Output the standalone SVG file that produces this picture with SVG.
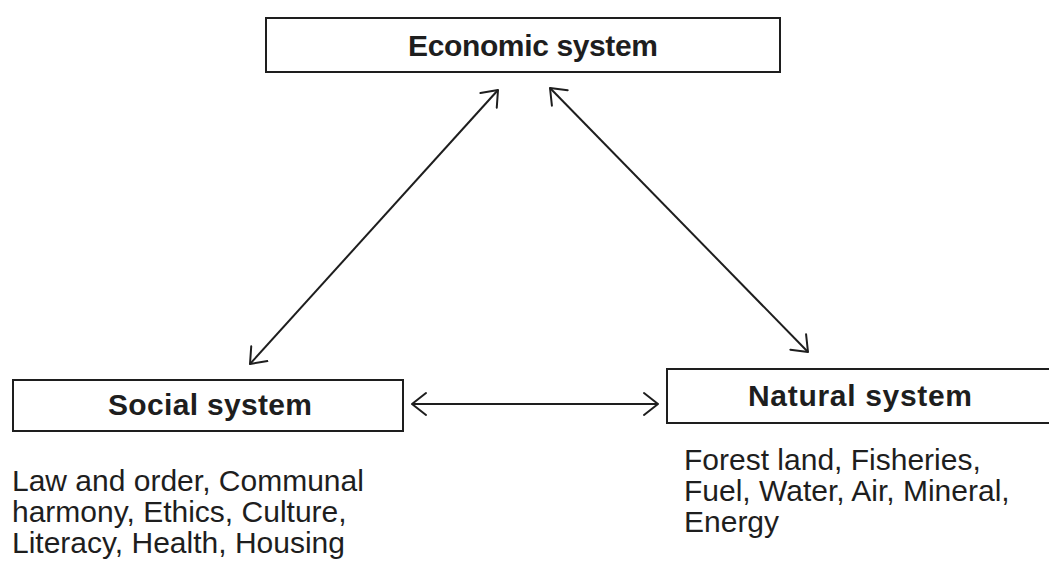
<svg xmlns="http://www.w3.org/2000/svg" width="1049" height="578" viewBox="0 0 1049 578">
<defs>
<style>
.box{fill:#fff;stroke:#1e1e1e;stroke-width:2}
.title{font-family:"Liberation Sans",Arial,sans-serif;font-weight:bold;font-size:30px;fill:#1e1e1e}
.body{font-family:"Liberation Sans",Arial,sans-serif;font-size:30px;fill:#1e1e1e}
.conn{stroke:#1e1e1e;stroke-width:2;fill:none;marker-start:url(#chev);marker-end:url(#chev)}
</style>
<marker id="chev" markerUnits="userSpaceOnUse" markerWidth="20" markerHeight="26" refX="15" refY="12" orient="auto-start-reverse" viewBox="0 0 20 24">
<path d="M1,1 L15,12 L1,23" fill="none" stroke="#1e1e1e" stroke-width="2" stroke-linecap="round" stroke-linejoin="round"/>
</marker>
</defs>
<rect width="1049" height="578" fill="#fff"/>
<g id="economic">
<rect class="box" x="266" y="18" width="514" height="54"/>
<text class="title" x="408" y="56" textLength="250" lengthAdjust="spacing">Economic system</text>
</g>
<g id="social">
<rect class="box" x="13" y="380" width="390" height="51"/>
<text class="title" x="108" y="415" textLength="204" lengthAdjust="spacing">Social system</text>
<text class="body" x="12" y="491">Law and order, Communal</text>
<text class="body" x="12" y="522">harmony, Ethics, Culture,</text>
<text class="body" x="12" y="553">Literacy, Health, Housing</text>
</g>
<g id="natural">
<rect class="box" x="667" y="369" width="390" height="54"/>
<text class="title" x="748" y="406" textLength="224" lengthAdjust="spacing">Natural system</text>
<text class="body" x="684" y="470">Forest land, Fisheries,</text>
<text class="body" x="684" y="501">Fuel, Water, Air, Mineral,</text>
<text class="body" x="684" y="532">Energy</text>
</g>
<g id="connectors">
<line class="conn" x1="250" y1="364" x2="498" y2="90"/>
<line class="conn" x1="808" y1="352" x2="550" y2="88"/>
<line class="conn" x1="412" y1="404" x2="658" y2="404"/>
</g>
</svg>
